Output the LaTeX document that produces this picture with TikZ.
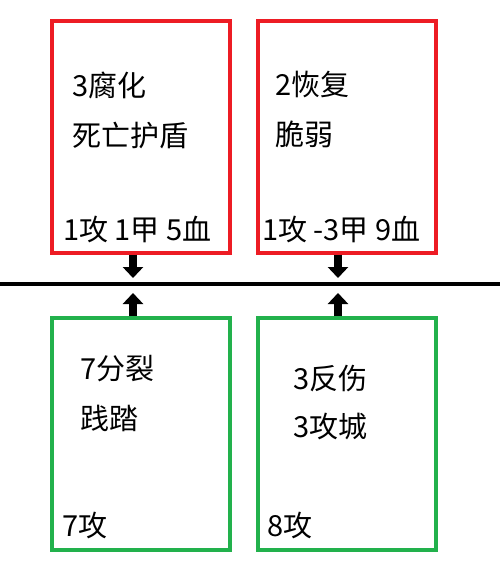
\documentclass[tikz,border=0pt]{standalone}
\usepackage{fontspec}
\newfontfamily\cjk{Noto Sans CJK SC}
\usetikzlibrary{arrows.meta}
\definecolor{boxred}{HTML}{ED1C24}
\definecolor{boxgreen}{HTML}{22B14C}
\tikzset{
  card/.style={draw=#1, line width=4pt, rectangle, inner sep=0pt, minimum width=178pt, minimum height=232pt, fill=white},
  lbl/.style={anchor=base west, inner sep=0pt, font=\cjk\fontsize{29pt}{29pt}\selectfont, text=black},
  pusharrow/.style={line width=8pt, -{Triangle[length=11pt,width=20pt]}},
  axis/.style={line width=4pt, draw=black}
}
\begin{document}
\begin{tikzpicture}[x=1pt,y=-1pt]
\useasboundingbox (0,0) rectangle (500,582);
% boxes
\node[card=boxred] (r1) at (141,136.5) {};
\node[card=boxred] (r2) at (346.5,136.5) {};
\node[card=boxgreen] (g1) at (141,434) {};
\node[card=boxgreen] (g2) at (346.5,434) {};
% center line
\coordinate (L) at (0,284);
\coordinate (R) at (500,284);
\draw[axis] (L) -- (R);
% arrow tips
\coordinate (t1) at (133,278);
\coordinate (t2) at (338,278);
\coordinate (u1) at (133,293);
\coordinate (u2) at (338,293);
\draw[pusharrow] (r1.south -| t1) -- (t1);
\draw[pusharrow] (r2.south -| t2) -- (t2);
\draw[pusharrow] (g1.north -| u1) -- (u1);
\draw[pusharrow] (g2.north -| u2) -- (u2);
% texts red 1
\node[lbl] (r1a) at (72,96) {3腐化};
\node[lbl] (r1b) at (72,146) {死亡护盾};
\node[lbl] (r1c) at (63,240) {1攻 1甲 5血};
% texts red 2
\node[lbl] (r2a) at (275,95) {2恢复};
\node[lbl] (r2b) at (275,145) {脆弱};
\node[lbl] (r2c) at (262,240) {1攻 -3甲 9血};
% texts green 1
\node[lbl] (g1a) at (80,379) {7分裂};
\node[lbl] (g1b) at (80,429) {践踏};
\node[lbl] (g1c) at (62,536) {7攻};
% texts green 2
\node[lbl] (g2a) at (293,389) {3反伤};
\node[lbl] (g2b) at (293,437) {3攻城};
\node[lbl] (g2c) at (267,536) {8攻};
\end{tikzpicture}
\end{document}
